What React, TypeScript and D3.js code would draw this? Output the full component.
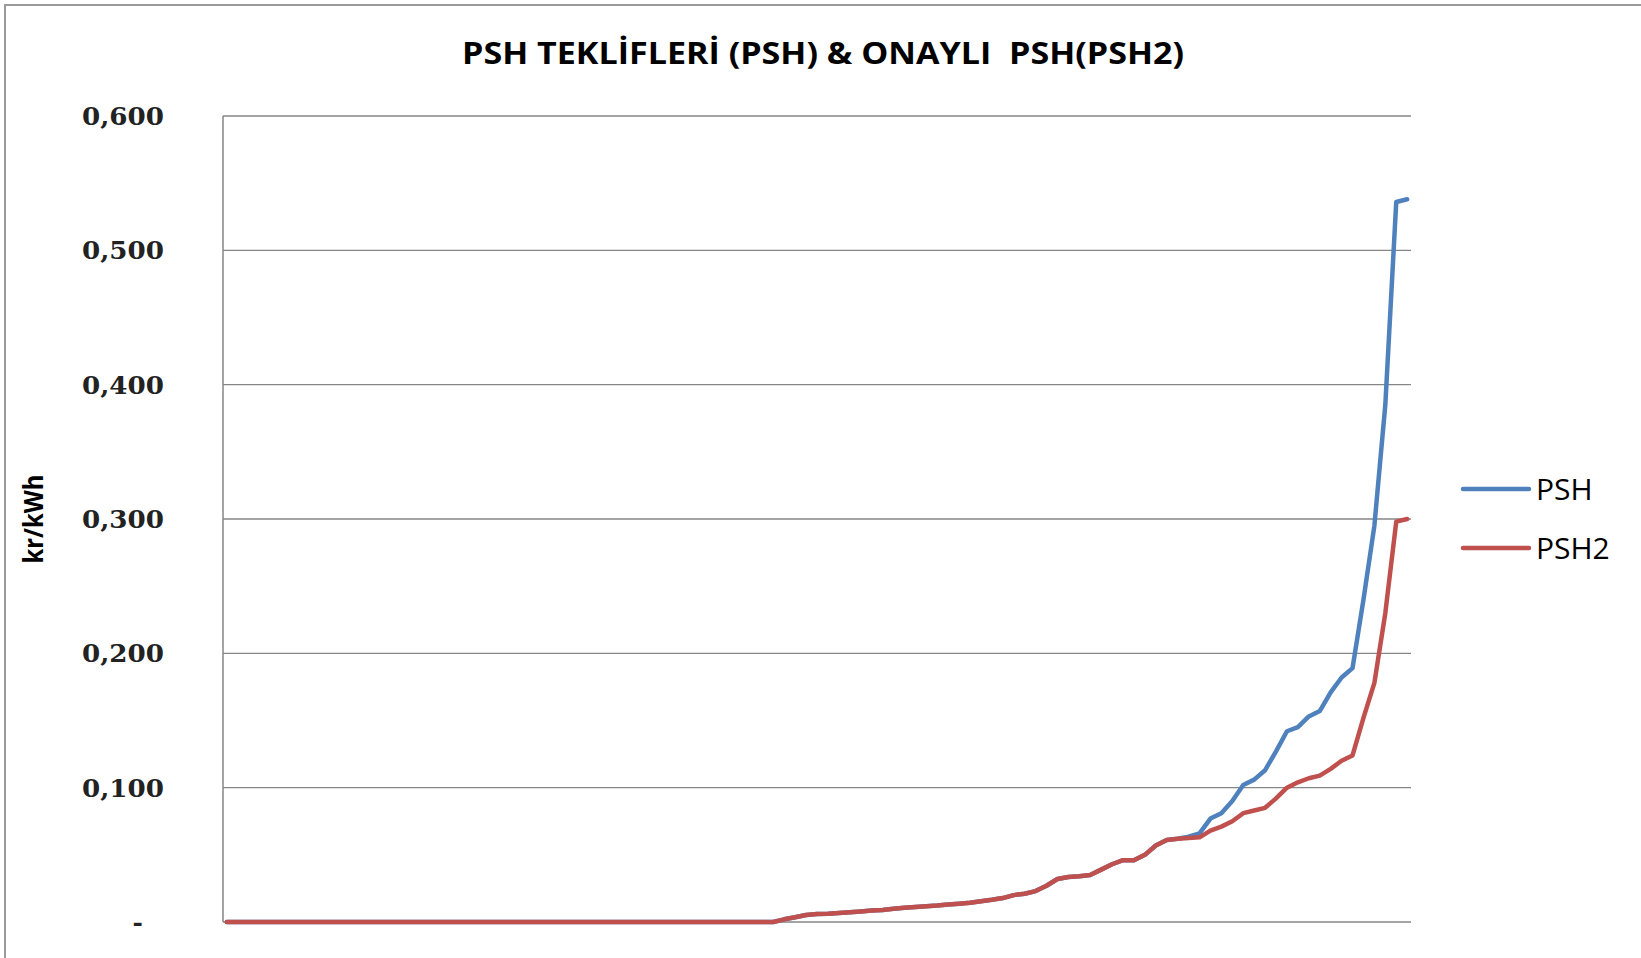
import React, { useEffect, useRef } from 'react';
import * as d3 from 'd3';

// PSH offers (sorted) vs approved PSH values, kr/kWh
const psh = [
  0, 0, 0, 0, 0, 0, 0, 0, 0, 0,
  0, 0, 0, 0, 0, 0, 0, 0, 0, 0,
  0, 0, 0, 0, 0, 0, 0, 0, 0, 0,
  0, 0, 0, 0, 0, 0, 0, 0, 0, 0,
  0, 0, 0, 0, 0, 0, 0, 0, 0, 0,
  0, 0.002, 0.0035, 0.0052, 0.006, 0.0062, 0.0067, 0.0072, 0.0078, 0.0085,
  0.009, 0.0098, 0.0106, 0.0112, 0.0118, 0.0122, 0.013, 0.0136, 0.0143, 0.0155,
  0.0165, 0.0178, 0.02, 0.021, 0.023, 0.027, 0.032, 0.0335, 0.034, 0.035,
  0.039, 0.043, 0.046, 0.046, 0.05, 0.057, 0.061, 0.062, 0.0635, 0.066,
  0.077, 0.081, 0.09, 0.102, 0.106, 0.113, 0.127, 0.142, 0.145, 0.153,
  0.157, 0.171, 0.182, 0.189, 0.24, 0.295, 0.385, 0.536, 0.538
];

const psh2 = [
  0, 0, 0, 0, 0, 0, 0, 0, 0, 0,
  0, 0, 0, 0, 0, 0, 0, 0, 0, 0,
  0, 0, 0, 0, 0, 0, 0, 0, 0, 0,
  0, 0, 0, 0, 0, 0, 0, 0, 0, 0,
  0, 0, 0, 0, 0, 0, 0, 0, 0, 0,
  0, 0.002, 0.0035, 0.0052, 0.006, 0.0062, 0.0067, 0.0072, 0.0078, 0.0085,
  0.009, 0.0098, 0.0106, 0.0112, 0.0118, 0.0122, 0.013, 0.0136, 0.0143, 0.0155,
  0.0165, 0.0178, 0.02, 0.021, 0.023, 0.027, 0.032, 0.0335, 0.034, 0.035,
  0.039, 0.043, 0.046, 0.046, 0.05, 0.057, 0.061, 0.062, 0.0625, 0.063,
  0.068, 0.071, 0.075, 0.081, 0.083, 0.085, 0.092, 0.1, 0.104, 0.107,
  0.109, 0.114, 0.12, 0.124, 0.152, 0.178, 0.23, 0.298, 0.3
];

const yTicks = [0, 0.1, 0.2, 0.3, 0.4, 0.5, 0.6];
const yTickLabels = ['-', '0,100', '0,200', '0,300', '0,400', '0,500', '0,600'];
const seriesNames = ['PSH', 'PSH2'];
const seriesColors = ['#4F81BD', '#C0504D'];

const App = () => {
  const svgRef = useRef<SVGSVGElement>(null);

  useEffect(() => {
    const svg = d3.select(svgRef.current);
    svg.selectAll('*').remove();

    const width = 1641;
    const height = 958;
    const margin = { top: 116, right: 230, bottom: 36, left: 223 };
    const plotRight = width - margin.right;
    const plotBottom = height - margin.bottom;

    svg.attr('width', width).attr('height', height);

    // white background and chart border
    svg.append('rect').attr('width', width).attr('height', height).attr('fill', '#fff');
    svg.append('rect')
      .attr('x', 5).attr('y', 5)
      .attr('width', width).attr('height', height)
      .attr('fill', 'none')
      .attr('stroke', '#9a9a9a')
      .attr('stroke-width', 2);

    const x = d3
      .scalePoint<number>()
      .domain(psh.map((_, i) => i))
      .range([margin.left, plotRight])
      .padding(0.35);

    const y = d3.scaleLinear().domain([0, 0.6]).range([plotBottom, margin.top]);

    // gridlines
    svg.append('g')
      .selectAll('line')
      .data(yTicks)
      .enter()
      .append('line')
      .attr('x1', margin.left)
      .attr('x2', plotRight)
      .attr('y1', (d) => y(d))
      .attr('y2', (d) => y(d))
      .attr('stroke', '#868686')
      .attr('stroke-width', 1.3);

    // left axis line
    svg.append('line')
      .attr('x1', margin.left).attr('x2', margin.left)
      .attr('y1', y(0.6)).attr('y2', y(0))
      .attr('stroke', '#868686')
      .attr('stroke-width', 1.5);

    // y tick labels
    svg.append('g')
      .selectAll('text')
      .data(yTicks)
      .enter()
      .append('text')
      .attr('x', (d) => (d === 0 ? 143 : 164))
      .attr('y', (d) => y(d) + 9)
      .attr('text-anchor', 'end')
      .attr('textLength', (d) => (d === 0 ? null : 82))
      .attr('lengthAdjust', 'spacingAndGlyphs')
      .style('font-family', '"DejaVu Serif", serif')
      .style('font-weight', 'bold')
      .style('font-size', '25px')
      .style('fill', '#222')
      .text((_, i) => yTickLabels[i]);

    // y axis title
    svg.append('text')
      .attr('transform', `translate(43, ${y(0.3)}) rotate(-90)`)
      .attr('text-anchor', 'middle')
      .attr('textLength', 89)
      .attr('lengthAdjust', 'spacingAndGlyphs')
      .style('font-family', '"Open Sans", sans-serif')
      .style('font-weight', 'bold')
      .style('font-size', '26px')
      .style('fill', '#000')
      .text('kr/kWh');

    // chart title
    svg.append('text')
      .attr('x', 823)
      .attr('y', 64)
      .attr('text-anchor', 'middle')
      .attr('textLength', 722)
      .attr('lengthAdjust', 'spacingAndGlyphs')
      .style('font-family', '"Open Sans", sans-serif')
      .style('font-weight', 'bold')
      .style('font-size', '31px')
      .style('fill', '#000')
      .style('white-space', 'pre')
      .text('PSH TEKLİFLERİ (PSH) & ONAYLI  PSH(PSH2)');

    // lines
    const line = d3
      .line<number>()
      .x((_, i) => x(i) as number)
      .y((d) => y(d));

    [psh, psh2].forEach((values, k) => {
      svg.append('path')
        .datum(values)
        .attr('d', line)
        .attr('fill', 'none')
        .attr('stroke', seriesColors[k])
        .attr('stroke-width', 4.5)
        .attr('stroke-linejoin', 'round')
        .attr('stroke-linecap', 'round');
    });

    // legend
    const legend = svg.append('g');
    seriesNames.forEach((name, k) => {
      const ly = 489 + k * 59;
      legend.append('line')
        .attr('x1', 1463).attr('x2', 1529)
        .attr('y1', ly).attr('y2', ly)
        .attr('stroke', seriesColors[k])
        .attr('stroke-width', 4.5)
        .attr('stroke-linecap', 'round');
      legend.append('text')
        .attr('x', 1536)
        .attr('y', ly + 11)
        .style('font-family', '"Open Sans", sans-serif')
        .style('font-size', '30px')
        .style('fill', '#000')
        .text(name);
    });
  }, []);

  return (
    <div style={{ position: 'absolute', left: 0, top: 0 }}>
      <svg ref={svgRef}></svg>
    </div>
  );
};

export default App;
